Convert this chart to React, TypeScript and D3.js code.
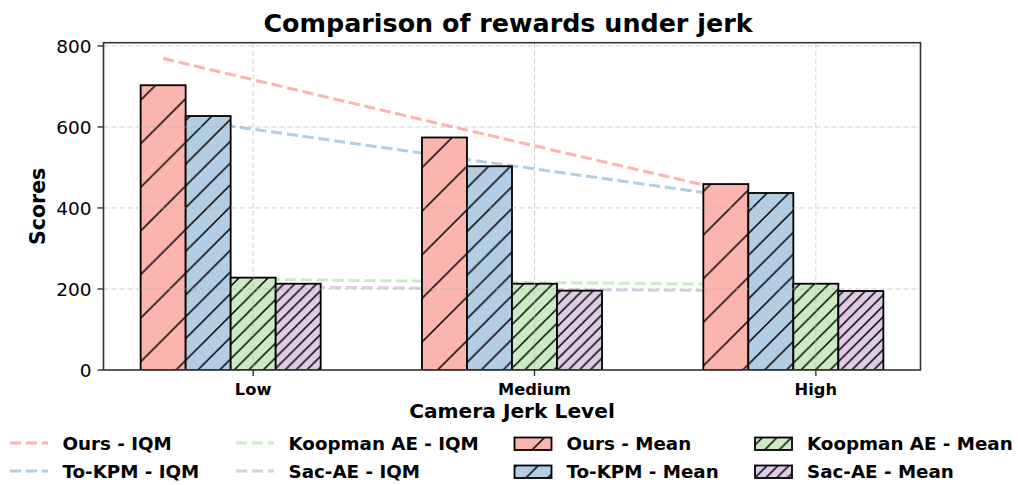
import React from 'react';
import * as d3 from 'd3';

// categories on the x axis
const categories = ['Low', 'Medium', 'High'];
const seriesNames = ['Ours', 'To-KPM', 'Koopman AE', 'Sac-AE'];
const colors = ['#fbb4ae', '#b3cde3', '#ccebc5', '#decbe4'];
const hatchDensity = [1, 2, 3, 4];

// mean scores (bars)
const oursMean = [703, 574, 459];
const tokpmMean = [627, 503, 437];
const koopmanMean = [228, 213, 213];
const sacaeMean = [213, 196, 195];

// IQM scores (dashed lines)
const oursIQM = [769, 605, 444];
const tokpmIQM = [610, 512, 415];
const koopmanIQM = [224, 216, 210];
const sacaeIQM = [205, 198, 194];

const yTicks = [0, 200, 400, 600, 800];

const meanSeries = [oursMean, tokpmMean, koopmanMean, sacaeMean];
const iqmSeries = [oursIQM, tokpmIQM, koopmanIQM, sacaeIQM];

const W = 1018;
const H = 485;
const plot = {left: 103.5, right: 920.5, top: 42.7, bottom: 370};
const barW = 0.16;
const font = "'DejaVu Sans', sans-serif";

export default function App() {
  const x = d3.scaleLinear().domain([-0.532, 2.372]).range([plot.left, plot.right]);
  const y = d3.scaleLinear().domain([0, 808]).range([plot.bottom, plot.top]);
  const offset = (j: number) => (j - 2) * barW;

  const baseS = 43.6;

  return (
    <svg width={W} height={H} style={{position: 'absolute', left: 0, top: 0, background: '#fff'}}
      fontFamily={font}>
      <defs>
        {hatchDensity.map((k, j) => {
          const s = baseS / k;
          return (
            <pattern key={j} id={`hatch${j}`} patternUnits="userSpaceOnUse" width={s} height={s}
              patternTransform={`translate(${22.8 % s},0)`}>
              <rect width={s} height={s} fill={colors[j]} />
              <path d={`M${-s},${s} L${s},${-s} M0,${s * 2} L${s * 2},0 M0,${s} L${s},0`}
                stroke="#000" strokeWidth={1.5} />
            </pattern>
          );
        })}
        <clipPath id="plotClip">
          <rect x={plot.left} y={plot.top} width={plot.right - plot.left} height={plot.bottom - plot.top} />
        </clipPath>
      </defs>

      {/* title */}
      <text x={508} y={32} textAnchor="middle" fontSize={25.4} fontWeight="bold">
        Comparison of rewards under jerk
      </text>

      <g clipPath="url(#plotClip)">
        {/* IQM lines, behind bars */}
        {iqmSeries.map((vals, j) => (
          <path key={j}
            d={d3.line<number>().x((_, i) => x(i + offset(j))).y(d => y(d))(vals) || ''}
            fill="none" stroke={colors[j]} strokeWidth={3} strokeDasharray="11.1,4.8" />
        ))}

        {/* bars */}
        {meanSeries.map((vals, j) =>
          vals.map((v, i) => (
            <rect key={`${j}-${i}`}
              x={x(i + offset(j) - barW / 2)}
              y={y(v)}
              width={x(barW) - x(0)}
              height={y(0) - y(v)}
              fill={`url(#hatch${j})`}
              stroke="#000" strokeWidth={1.8} />
          ))
        )}

        {/* grid on top */}
        {yTicks.map(t => (
          <line key={t} x1={plot.left} x2={plot.right} y1={y(t)} y2={y(t)}
            stroke="#b0b0b0" strokeOpacity={0.6} strokeWidth={1} strokeDasharray="5,3" />
        ))}
        {categories.map((c, i) => (
          <line key={c} x1={x(i)} x2={x(i)} y1={plot.top} y2={plot.bottom}
            stroke="#b0b0b0" strokeOpacity={0.6} strokeWidth={1} strokeDasharray="5,3" />
        ))}
      </g>

      {/* frame */}
      <rect x={plot.left} y={plot.top} width={plot.right - plot.left} height={plot.bottom - plot.top}
        fill="none" stroke="#333" strokeWidth={1.6} />

      {/* y axis */}
      {yTicks.map(t => (
        <g key={t}>
          <line x1={plot.left - 6} x2={plot.left} y1={y(t)} y2={y(t)} stroke="#333" strokeWidth={1.4} />
          <text x={plot.left - 12} y={y(t)} dy="0.36em" textAnchor="end" fontSize={18.5}>{t}</text>
        </g>
      ))}
      <text transform={`translate(45,${(plot.top + plot.bottom) / 2}) rotate(-90)`}
        textAnchor="middle" fontSize={20.5} fontWeight="bold">Scores</text>

      {/* x axis */}
      {categories.map((c, i) => (
        <g key={c}>
          <line x1={x(i)} x2={x(i)} y1={plot.bottom} y2={plot.bottom + 6} stroke="#333" strokeWidth={1.4} />
          <text x={x(i)} y={394.5} textAnchor="middle" fontSize={16.3} fontWeight="bold">{c}</text>
        </g>
      ))}
      <text x={(plot.left + plot.right) / 2} y={417.5} textAnchor="middle" fontSize={20.2} fontWeight="bold">
        Camera Jerk Level
      </text>

      {/* legend */}
      {seriesNames.map((name, j) => {
        const col = j < 2 ? 0 : 1;
        const row = j % 2;
        const hx = [10, 236][col];
        const ty = 450 + row * 28;
        return (
          <g key={`iqm-${j}`}>
            <line x1={hx} x2={hx + 38} y1={ty - 7} y2={ty - 7} stroke={colors[j]} strokeWidth={3}
              strokeDasharray="11.1,4.8" />
            <text x={hx + 52.5} y={ty} fontSize={18.3} fontWeight="bold">{name} - IQM</text>
          </g>
        );
      })}
      {seriesNames.map((name, j) => {
        const col = j < 2 ? 0 : 1;
        const row = j % 2;
        const hx = [514.5, 755][col];
        const ty = 450 + row * 28;
        return (
          <g key={`mean-${j}`}>
            <rect x={hx} y={ty - 12.5} width={37} height={12.5} fill={`url(#hatch${j})`}
              stroke="#000" strokeWidth={1.8} />
            <text x={hx + 52} y={ty} fontSize={18.3} fontWeight="bold">{name} - Mean</text>
          </g>
        );
      })}
    </svg>
  );
}
